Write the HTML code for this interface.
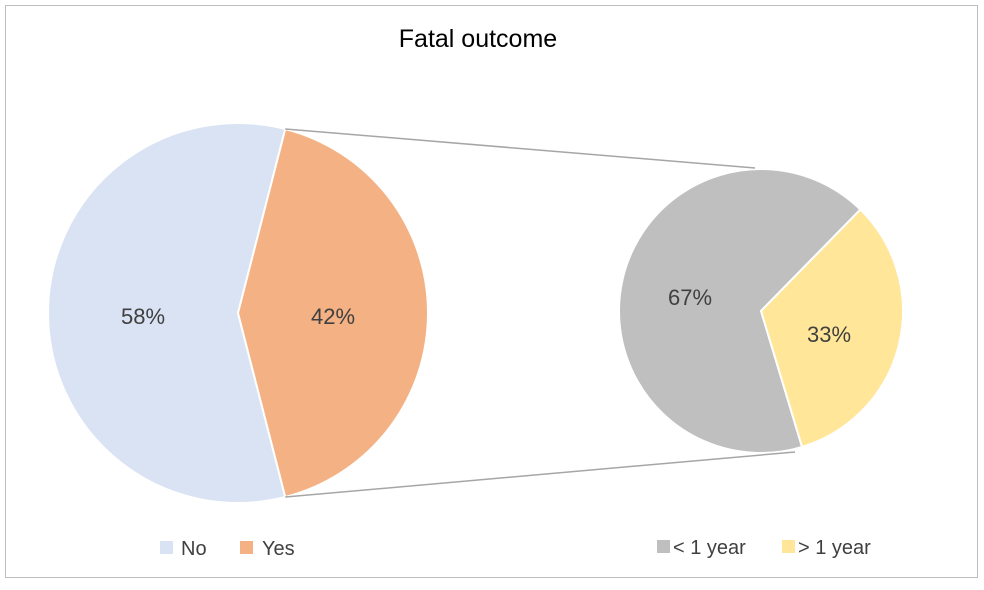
<!DOCTYPE html>
<html><head><meta charset="utf-8"><style>
body{margin:0;background:#fff;font-family:"Liberation Sans",sans-serif}
</style></head><body>
<svg width="984" height="585">
<rect x="5.5" y="5.5" width="972" height="572" fill="#fff" stroke="#bdbdbd"/>
<text x="478" y="47" font-size="25" text-anchor="middle" fill="#000">Fatal outcome</text>
<g id="g"></g>
<g>
<rect x="160" y="541" width="13" height="13" fill="#dae3f3"/>
<text x="181" y="555" font-size="20" fill="#404040">No</text>
<rect x="240" y="541" width="13" height="13" fill="#f4b183"/>
<text x="262" y="555" font-size="20" fill="#404040">Yes</text>
<rect x="657" y="540" width="13" height="13" fill="#bfbfbf"/>
<text x="673" y="554" font-size="20" fill="#404040">&lt; 1 year</text>
<rect x="782" y="540" width="13" height="13" fill="#ffe699"/>
<text x="798" y="554" font-size="20" fill="#404040">&gt; 1 year</text>
</g>
</svg>
<script>
const mainCats=["No","Yes"];
const mainVals=[58,42];
const mainColors=["#dae3f3","#f4b183"];
const subCats=["< 1 year","> 1 year"];
const subVals=[67,33];
const subColors=["#bfbfbf","#ffe699"];
const ns="http://www.w3.org/2000/svg";
const g=document.getElementById('g');
function pt(cx,cy,r,a){return [cx+r*Math.cos(a),cy+r*Math.sin(a)];}
function arc(cx,cy,r,a0,a1,fill,name){
  const p0=pt(cx,cy,r,a0),p1=pt(cx,cy,r,a1);
  const large=(a1-a0)>Math.PI?1:0;
  const p=document.createElementNS(ns,'path');
  p.setAttribute('d',`M${cx},${cy}L${p0[0]},${p0[1]}A${r},${r} 0 ${large} 1 ${p1[0]},${p1[1]}Z`);
  p.setAttribute('fill',fill);p.setAttribute('stroke','#fff');p.setAttribute('stroke-width','2');
  
  
  g.appendChild(p);
}
function label(x,y,t,name){
  const e=document.createElementNS(ns,'text');
  e.setAttribute('x',x);e.setAttribute('y',y);e.setAttribute('font-size','22');
  e.setAttribute('fill','#404040');e.setAttribute('text-anchor','middle');
  e.textContent=t;
  
  
  g.appendChild(e);
}
// main pie: last slice centered on right side
const C1=[238,313],R1=190,C2=[761,311],R2=142;
const mt=mainVals.reduce((a,b)=>a+b,0);
const yesAng=mainVals[1]/mt*2*Math.PI;
const ys=-yesAng/2, ye=yesAng/2;
arc(C1[0],C1[1],R1,ye,ys+2*Math.PI,mainColors[0],'slice-no');
arc(C1[0],C1[1],R1,ys,ye,mainColors[1],'slice-yes');
label(143,324,Math.round(mainVals[0]/mt*100)+'%','label-no');
label(333,324,Math.round(mainVals[1]/mt*100)+'%','label-yes');
// sub pie
const st=subVals.reduce((a,b)=>a+b,0);
const s0=-45.6*Math.PI/180;
const gtAng=subVals[1]/st*2*Math.PI;
arc(C2[0],C2[1],R2,s0+gtAng,s0+2*Math.PI,subColors[0],'slice-lt1');
arc(C2[0],C2[1],R2,s0,s0+gtAng,subColors[1],'slice-gt1');
label(690,305,Math.round(subVals[0]/st*100)+'%','label-lt1');
label(829,342,Math.round(subVals[1]/st*100)+'%','label-gt1');
// connectors
const a=pt(C1[0],C1[1],R1,ys),b=pt(C1[0],C1[1],R1,ye);
[[a,[755,168],'connector-top'],[b,[795,452],'connector-bottom']].forEach(([p,q,n])=>{
  const l=document.createElementNS(ns,'line');
  l.setAttribute('x1',p[0]);l.setAttribute('y1',p[1]);l.setAttribute('x2',q[0]);l.setAttribute('y2',q[1]);
  l.setAttribute('stroke','#a6a6a6');l.setAttribute('stroke-width','1.5');
  
  
  g.appendChild(l);
});
</script>
</body></html>
